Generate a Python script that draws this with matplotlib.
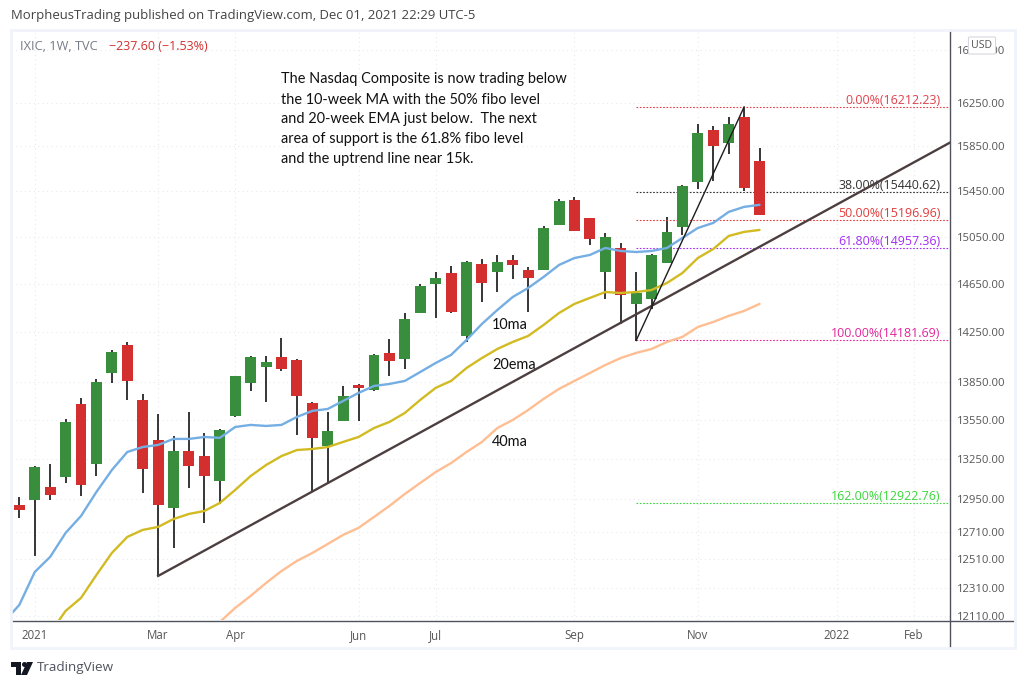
import matplotlib
matplotlib.use('Agg')
import matplotlib.pyplot as plt
import matplotlib.patches as patches
from matplotlib.lines import Line2D
import numpy as np

W, H = 1026, 687

# weekly candles, week 0 = last week of 2020
opens = [12906, 12943, 13040, 13115, 13675, 13212, 13920, 14146, 13707, 13396,
         12884, 13311, 13273, 13085, 13582, 13841, 13968, 14049, 14024, 13683,
         13350, 13543, 13825, 13786, 14081, 14032, 14407, 14649, 14741, 14219,
         14817, 14749, 14851, 14766, 14766, 15153, 15372, 15213, 14749, 14954,
         14482, 14523, 14826, 15135, 15531, 16000, 15882, 16120, 15719]
highs = [12965, 13197, 13212, 13558, 13722, 13872, 14105, 14170, 13754, 13597,
         13427, 13613, 13450, 13481, 13900, 14057, 14057, 14202, 14032, 13690,
         13613, 13817, 13833, 14070, 14194, 14407, 14649, 14749, 14800, 14843,
         14860, 14894, 14894, 14792, 15144, 15380, 15398, 15216, 15083, 14997,
         14749, 14903, 15222, 15504, 16056, 16037, 16120, 16212, 15836]
lows = [12810, 12534, 12943, 13070, 12973, 13122, 13841, 13707, 12995, 12392,
        12592, 13033, 12774, 12914, 13574, 13778, 13691, 13936, 13435, 13003,
        13063, 13540, 13543, 13778, 13896, 13952, 14405, 14366, 14407, 14170,
        14498, 14581, 14690, 14415, 14766, 15150, 15100, 14980, 14523, 14317,
        14181, 14440, 14826, 15066, 15469, 15540, 15782, 15451, 15240]
closes = [12869, 13190, 12980, 13535, 13055, 13849, 14089, 13857, 13175, 12906,
          13311, 13197, 13122, 13473, 13896, 14049, 14008, 13952, 13738, 13412,
          13465, 13738, 13802, 14065, 14016, 14358, 14632, 14699, 14415, 14834,
          14657, 14834, 14809, 14699, 15126, 15363, 15100, 15032, 15049, 14556,
          14573, 14894, 15092, 15495, 15973, 15855, 16056, 15477, 15240]

# moving averages, first value of ma10 is the week before the first candle
ma10 = [12069, 12188, 12420, 12528, 12701, 12825, 13003, 13167, 13304, 13342,
        13358, 13404, 13404, 13419, 13412, 13496, 13512, 13504, 13512, 13574,
        13621, 13636, 13699, 13762, 13817, 13833, 13857, 13928, 14000, 14065,
        14186, 14317, 14432, 14540, 14615, 14708, 14809, 14868, 14894, 14954,
        14928, 14919, 14928, 14954, 15040, 15126, 15170, 15266, 15310, 15328]
ema20 = [11994, 12146, 12237, 12399, 12556, 12672, 12723, 12745, 12803, 12840,
         12862, 12921, 13018, 13122, 13205, 13273, 13319, 13327, 13342, 13381,
         13419, 13488, 13535, 13605, 13707, 13802, 13857, 13960, 14040, 14113,
         14170, 14219, 14309, 14407, 14482, 14532, 14581, 14573, 14581, 14598,
         14657, 14741, 14868, 14945, 15057, 15092, 15109]
ma40 = [12069, 12167, 12251, 12342, 12427, 12499, 12556, 12621, 12687, 12738,
        12818, 12899, 12988, 13070, 13152, 13220, 13304, 13381, 13488, 13551,
        13628, 13715, 13794, 13857, 13920, 13984, 14040, 14081, 14113, 14170,
        14211, 14292, 14333, 14383, 14424, 14482]

price_ticks = [12110, 12310, 12510, 12710, 12950, 13250, 13550, 13850, 14250,
               14650, 15050, 15450, 15850, 16250, 16750]
date_ticks = [1, 9, 14, 22, 27, 36, 44, 53, 58]
date_labels = ['2021', 'Mar', 'Apr', 'Jun', 'Jul', 'Sep', 'Nov', '2022', 'Feb']

fib_labels = ['0.00%', '38.00%', '50.00%', '61.80%', '100.00%', '162.00%']
fib_prices = [16212.23, 15440.62, 15196.96, 14957.36, 14181.69, 12922.76]
fib_colors = ['#e0404a', '#333333', '#e03c3c', '#a52cf5', '#e0289c', '#3ad63a']

trend_weeks = [9, 60.32]
trend_prices = [12392, 15882]
swing_weeks = [40, 47]
swing_prices = [14181.69, 16212.23]

note = ['The Nasdaq Composite is now trading below',
        'the 10-week MA with the 50% fibo level',
        'and 20-week EMA just below.  The next',
        'area of support is the 61.8% fibo level',
        'and the uptrend line near 15k.']
note_y = [79.5, 99.5, 119, 139, 158.5]

GREEN = '#388e3c'
RED = '#d32f2f'
FONT = 'Open Sans'
GRID = '#e8eaf0'
plt.rcParams['font.family'] = FONT


def fx(x):
    return x / W


def fy(y):
    return 1 - y / H


fig = plt.figure(figsize=(W / 100, H / 100), dpi=100, facecolor='white')
ax = fig.add_axes([fx(11), fy(620), fx(938.5), 590 / H])
ax.set_yscale('log')
ax.set_xlim(-0.54, 60.32)
ax.set_ylim(12083, 16943)
for s in ax.spines.values():
    s.set_visible(False)

ax.minorticks_off()
ax.yaxis.tick_right()
ax.set_yticks(price_ticks, [f'{p:.2f}' for p in price_ticks])
ax.set_xticks(date_ticks, date_labels)
ax.tick_params(axis='y', which='both', length=0, pad=5.2, labelsize=8.1, labelcolor='#555555')
ax.tick_params(axis='x', length=0, pad=6.5, labelsize=8.3, labelcolor='#555555')
ax.tick_params(axis='y', which='minor', labelright=False)
ax.grid(True, which='major', color=GRID, linestyle=(0, (1, 3)), linewidth=0.8)
ax.set_axisbelow(True)

# candles
weeks = np.arange(len(opens))
o = np.array(opens, dtype=float)
c = np.array(closes, dtype=float)
colors = [GREEN if b > a else RED for a, b in zip(o, c)]
ax.vlines(weeks, lows, highs, color='black', linewidth=1.1, zorder=2)
ax.bar(weeks, np.abs(c - o), bottom=np.minimum(o, c), width=0.71, color=colors, linewidth=0, zorder=3)

# fib levels
for label, price, color in zip(fib_labels, fib_prices, fib_colors):
    ax.plot([40, 60.32], [price, price], color=color, linewidth=0.8, linestyle=(0, (1.5, 1.5)), zorder=2.5)
    ax.annotate(f'{label}({price:.2f})', xy=(60.32, price), xytext=(-9, 0), textcoords='offset pixels',
                ha='right', va='bottom', fontsize=8.9, color=color, zorder=4)

# moving averages
ax.plot(np.arange(-1, 49), ma10, color='#74aee3', linewidth=1.7, zorder=5, solid_capstyle='round')
ax.plot(np.arange(2, 49), ema20, color='#d2bb22', linewidth=1.7, zorder=5, solid_capstyle='round')
ax.plot(np.arange(13, 49), ma40, color='#ffbe92', linewidth=1.7, zorder=5, solid_capstyle='round')

# drawn lines
ax.plot(trend_weeks, trend_prices, color='#4d3f3f', linewidth=1.7, zorder=6)
ax.plot(swing_weeks, swing_prices, color='#1c1c1c', linewidth=1.0, zorder=6)

# hide the bottom of the lowest price label, the time scale sits on top
fig.add_artist(patches.Rectangle((fx(950.5), fy(647)), fx(63), 26 / H, transform=fig.transFigure,
                                 facecolor='white', edgecolor='none', zorder=5))
fig.add_artist(Line2D([fx(11), fx(1015)], [fy(620.5), fy(620.5)], color='#50535e', linewidth=1, zorder=6))
fig.add_artist(Line2D([fx(949.5), fx(949.5)], [fy(30), fy(647)], color='#50535e', linewidth=1, zorder=6))
fig.add_artist(patches.Rectangle((fx(10.5), fy(648)), fx(1004.5), 618 / H, transform=fig.transFigure,
                                 facecolor='none', edgecolor='#f0f3fa', linewidth=2, zorder=6))

# USD badge
fig.add_artist(patches.FancyBboxPatch((fx(970), fy(53)), fx(24), 15 / H, transform=fig.transFigure,
                                      boxstyle='round,pad=0.0015', facecolor='white', edgecolor='#d6d8e0',
                                      linewidth=0.8, zorder=7))
fig.text(fx(982), fy(45), 'USD', fontsize=7.6, color='#555555', ha='center', va='center', zorder=8)

# header and legend
fig.text(fx(11), fy(16), 'MorpheusTrading published on TradingView.com, Dec 01, 2021 22:29 UTC-5',
         fontsize=9.46, color='#444444', ha='left', va='center')
fig.text(fx(20.5), fy(46.5), 'IXIC, 1W, TVC', fontsize=9.2, color='#787b86', ha='left', va='center')
fig.text(fx(109), fy(46.5), '\u2212237.60 (\u22121.53%)', fontsize=9, color='#d32f2f', ha='left', va='center')

# annotation text
for line, y in zip(note, note_y):
    fig.text(fx(281), fy(y), line, fontsize=10.45, family='Lato', color='#111111', ha='left', va='center', zorder=9)
fig.text(fx(492), fy(325), '10ma', fontsize=10.45, family='Lato', color='#111111', ha='left', va='center', zorder=9)
fig.text(fx(492), fy(365), '20ema', fontsize=10.45, family='Lato', color='#111111', ha='left', va='center', zorder=9)
fig.text(fx(492), fy(442), '40ma', fontsize=10.45, family='Lato', color='#111111', ha='left', va='center', zorder=9)

# TradingView logo
logo = '#131722'
fig.add_artist(patches.Polygon([(fx(11), fy(662)), (fx(21), fy(662)), (fx(21), fy(675)), (fx(16), fy(675)),
                                (fx(16), fy(667)), (fx(11), fy(667))], transform=fig.transFigure,
                               facecolor=logo, edgecolor='none'))
fig.add_artist(patches.Ellipse((fx(24.5), fy(664.5)), fx(5), 5 / H, transform=fig.transFigure,
                               facecolor=logo, edgecolor='none'))
fig.add_artist(patches.Polygon([(fx(27), fy(662)), (fx(33), fy(662)), (fx(27), fy(675)), (fx(21), fy(675))],
                               transform=fig.transFigure, facecolor=logo, edgecolor='none'))
fig.text(fx(37), fy(668), 'TradingView', fontsize=9.7, color='#50535e', ha='left', va='center')

fig.savefig('out.png', dpi=100)
